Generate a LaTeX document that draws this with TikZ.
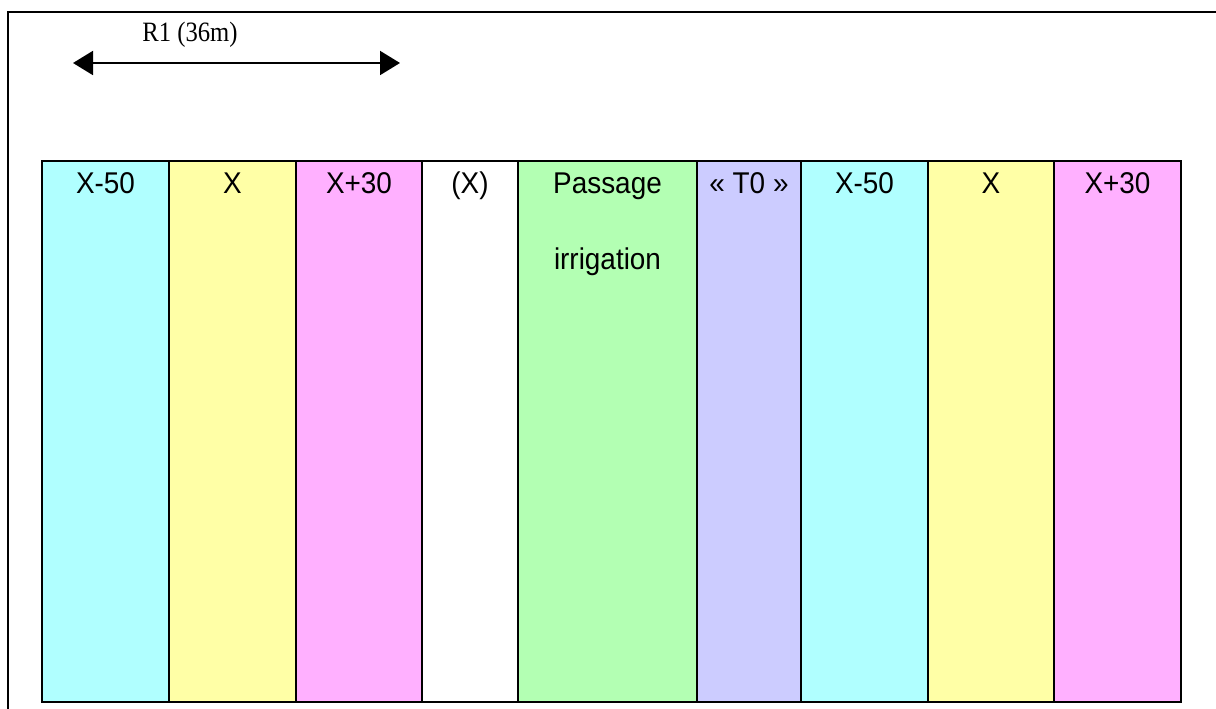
\documentclass[tikz,border=0pt]{standalone}
\usepackage{fontspec}
\usetikzlibrary{arrows.meta}
\newfontfamily\labfont{Liberation Sans}[FakeStretch=0.93]
\newfontfamily\rfont{Liberation Serif}[FakeStretch=0.88]
\definecolor{bandcyan}{HTML}{B0FFFF}
\definecolor{bandyellow}{HTML}{FFFFA6}
\definecolor{bandpink}{HTML}{FFB0FF}
\definecolor{bandgreen}{HTML}{B3FFB3}
\definecolor{bandlilac}{HTML}{CCCCFF}
\begin{document}
\begin{tikzpicture}[x=1pt,y=-1pt,
  band/.style={draw=black,line width=1.6pt,anchor=north west,minimum height=541pt,inner sep=0pt,outer sep=0pt},
  lbl/.style={anchor=base,inner sep=0pt,font=\labfont\fontsize{30}{36}\selectfont},
  span/.style={line width=2pt,>={Triangle[length=20pt,width=24pt]},<->}]
\useasboundingbox (0,0) rectangle (1216,709);
% outer frame
\draw[line width=2.4pt] (8,712) -- (8,12) -- (1220,12);
% coloured strips
\node[band,fill=bandcyan,  minimum width=127pt] (c1) at (42,161)  {};
\node[band,fill=bandyellow,minimum width=127pt] (c2) at (169,161) {};
\node[band,fill=bandpink,  minimum width=126pt] (c3) at (296,161) {};
\node[band,fill=white,     minimum width=96pt]  (c4) at (422,161) {};
\node[band,fill=bandgreen, minimum width=179pt] (c5) at (518,161) {};
\node[band,fill=bandlilac, minimum width=104pt] (c6) at (697,161) {};
\node[band,fill=bandcyan,  minimum width=127pt] (c7) at (801,161) {};
\node[band,fill=bandyellow,minimum width=126pt] (c8) at (928,161) {};
\node[band,fill=bandpink,  minimum width=127pt] (c9) at (1054,161) {};
\draw[line width=2.8pt] (c1.south west) -- (c9.south east);
% strip labels
\node[lbl] (t1) at ([yshift=-32pt]c1.north) {X-50};
\node[lbl] (t2) at ([yshift=-32pt]c2.north) {X};
\node[lbl] (t3) at ([yshift=-32pt]c3.north) {X+30};
\node[lbl] (t4) at ([yshift=-32pt]c4.north) {(X)};
\node[lbl] (t5) at ([yshift=-32pt]c5.north) {Passage};
\node[lbl] (t5b) at ([yshift=-108pt]c5.north) {irrigation};
\node[lbl] (t6) at ([yshift=-32pt]c6.north) {« T0 »};
\node[lbl] (t7) at ([yshift=-32pt]c7.north) {X-50};
\node[lbl] (t8) at ([yshift=-32pt]c8.north) {X};
\node[lbl] (t9) at ([yshift=-32pt]c9.north) {X+30};
% span of R1
\coordinate (al) at (73,63);
\coordinate (ar) at (400,63);
\draw[span] (al) -- (ar);
\node[anchor=base,inner sep=0pt,font=\rfont\fontsize{28}{32}\selectfont] (r1) at (190,42) {R1 (36m)};
\end{tikzpicture}
\end{document}
